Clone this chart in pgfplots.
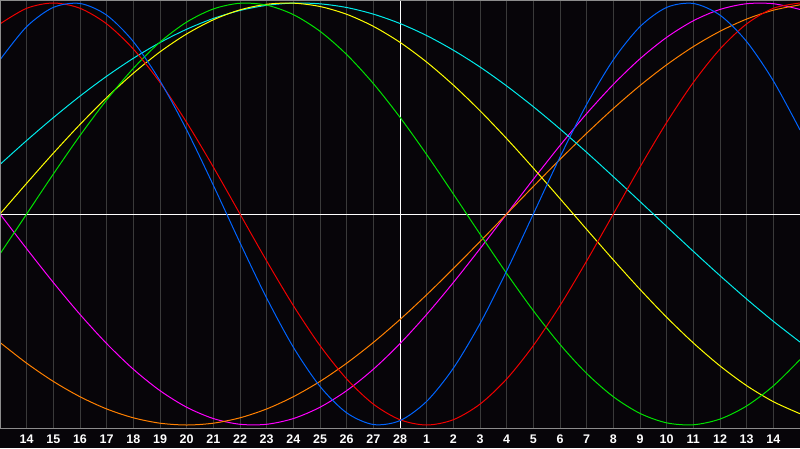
\documentclass[border=0pt]{standalone}
\usepackage{pgfplots}
\pgfplotsset{compat=1.18}
\usepackage{fontspec}
\setmainfont{Liberation Sans}
\definecolor{bg}{RGB}{7,5,9}
\definecolor{gridc}{RGB}{58,58,58}
\definecolor{framec}{RGB}{140,140,140}
\definecolor{cred}{RGB}{240,0,0}
\definecolor{cblue}{RGB}{0,100,255}
\definecolor{cgreen}{RGB}{0,225,0}
\definecolor{cmag}{RGB}{255,0,255}
\definecolor{cyel}{RGB}{255,255,0}
\definecolor{corange}{RGB}{255,128,0}
\definecolor{ccyan}{RGB}{0,235,235}
\begin{document}
\begin{tikzpicture}
\path[use as bounding box] (0,-20pt) rectangle (800pt,428pt);
\fill[bg] (0,-20pt) rectangle (800pt,428pt);
\begin{axis}[
  at={(0,0)}, anchor=south west,
  width=800pt, height=428pt, scale only axis,
  xmin=0, xmax=30, ymin=-1.0142, ymax=1.0142,
  axis line style={draw=none},
  xtick={1,...,29},
  xticklabels={14,15,16,17,18,19,20,21,22,23,24,25,26,27,28,1,2,3,4,5,6,7,8,9,10,11,12,13,14},
  ytick=\empty,
  xmajorgrids, grid style={gridc, line width=1pt},
  major tick length=0pt,
  xticklabel style={font=\bfseries\fontsize{12.5}{12.5}\selectfont, text=white, inner sep=0pt},
  xticklabel shift=6.5pt,
  every axis plot/.append style={line width=1pt, smooth},
]
\draw[white, line width=1pt] (axis cs:0,0) -- (axis cs:30,0);
\draw[white, line width=1pt] (axis cs:15,-1.1) -- (axis cs:15,1.1);
% intuitive
\addplot[cmag] coordinates {
(0,0) (1,-0.1646) (2,-0.3247) (3,-0.4759) (4,-0.6142) (5,-0.7357) (6,-0.8372) (7,-0.9158)
(8,-0.9694) (9,-0.9966) (10,-0.9966) (11,-0.9694) (12,-0.9158) (13,-0.8372) (14,-0.7357)
(15,-0.6142) (16,-0.4759) (17,-0.3247) (18,-0.1646) (19,0) (20,0.1646) (21,0.3247) (22,0.4759)
(23,0.6142) (24,0.7357) (25,0.8372) (26,0.9158) (27,0.9694) (28,0.9966) (29,0.9966) (30,0.9694)};
% awareness
\addplot[corange] coordinates {
(0,-0.6088) (1,-0.7071) (2,-0.7934) (3,-0.8660) (4,-0.9239) (5,-0.9659) (6,-0.9914) (7,-1)
(8,-0.9914) (9,-0.9659) (10,-0.9239) (11,-0.8660) (12,-0.7934) (13,-0.7071) (14,-0.6088)
(15,-0.5) (16,-0.3827) (17,-0.2588) (18,-0.1305) (19,0) (20,0.1305) (21,0.2588) (22,0.3827)
(23,0.5) (24,0.6088) (25,0.7071) (26,0.7934) (27,0.8660) (28,0.9239) (29,0.9659) (30,0.9914)};
% spiritual
\addplot[ccyan] coordinates {
(0,0.2349) (1,0.3482) (2,0.4566) (3,0.5587) (4,0.6529) (5,0.7379) (6,0.8125) (7,0.8757)
(8,0.9267) (9,0.9646) (10,0.9890) (11,0.9996) (12,0.9961) (13,0.9786) (14,0.9473)
(15,0.9028) (16,0.8457) (17,0.7764) (18,0.6967) (19,0.6068) (20,0.5085) (21,0.4031) (22,0.2921)
(23,0.1769) (24,0.0592) (25,-0.0592) (26,-0.1769) (27,-0.2921) (28,-0.4031) (29,-0.5085) (30,-0.6068)};
% aesthetic
\addplot[cyel] coordinates {
(0,0) (1,0.1456) (2,0.2881) (3,0.4245) (4,0.5517) (5,0.6671) (6,0.7684) (7,0.8533)
(8,0.9203) (9,0.9675) (10,0.9940) (11,0.9993) (12,0.9834) (13,0.9465) (14,0.8894)
(15,0.8135) (16,0.7199) (17,0.6110) (18,0.4894) (19,0.3572) (20,0.2174) (21,0.0730) (22,-0.0730)
(23,-0.2174) (24,-0.3572) (25,-0.4894) (26,-0.6110) (27,-0.7199) (28,-0.8135) (29,-0.8894) (30,-0.9465)};
% intellectual
\addplot[cgreen] coordinates {
(0,-0.1893) (1,0) (2,0.1893) (3,0.3717) (4,0.5406) (5,0.6901) (6,0.8146) (7,0.9096)
(8,0.9718) (9,0.9989) (10,0.9898) (11,0.9450) (12,0.8660) (13,0.7557) (14,0.6182)
(15,0.4582) (16,0.2817) (17,0.0951) (18,-0.0951) (19,-0.2817) (20,-0.4582) (21,-0.6182) (22,-0.7557)
(23,-0.8660) (24,-0.9450) (25,-0.9898) (26,-0.9989) (27,-0.9718) (28,-0.9096) (29,-0.8146) (30,-0.6901)};
% emotional
\addplot[cred] coordinates {
(0,0.9010) (1,0.9749) (2,1) (3,0.9749) (4,0.9010) (5,0.7818) (6,0.6235) (7,0.4339)
(8,0.2225) (9,0) (10,-0.2225) (11,-0.4339) (12,-0.6235) (13,-0.7818) (14,-0.9010)
(15,-0.9749) (16,-1) (17,-0.9749) (18,-0.9010) (19,-0.7818) (20,-0.6235) (21,-0.4339) (22,-0.2225)
(23,0) (24,0.2225) (25,0.4339) (26,0.6235) (27,0.7818) (28,0.9010) (29,0.9749) (30,1)};
% physical
\addplot[cblue] coordinates {
(0,0.7308) (1,0.8879) (2,0.9791) (3,0.9977) (4,0.9423) (5,0.8170) (6,0.6311) (7,0.3984)
(8,0.1362) (9,-0.1362) (10,-0.3984) (11,-0.6311) (12,-0.8170) (13,-0.9423) (14,-0.9977)
(15,-0.9791) (16,-0.8879) (17,-0.7308) (18,-0.5196) (19,-0.2698) (20,0) (21,0.2698) (22,0.5196)
(23,0.7308) (24,0.8879) (25,0.9791) (26,0.9977) (27,0.9423) (28,0.8170) (29,0.6311) (30,0.3984)};
\end{axis}
\draw[framec, line width=1pt] (0.5pt,0) -- (0.5pt,428pt);
\draw[framec, line width=1pt] (0,427.5pt) -- (800pt,427.5pt);
\draw[framec, line width=1pt] (0,0) -- (800pt,0);
\end{tikzpicture}
\end{document}
